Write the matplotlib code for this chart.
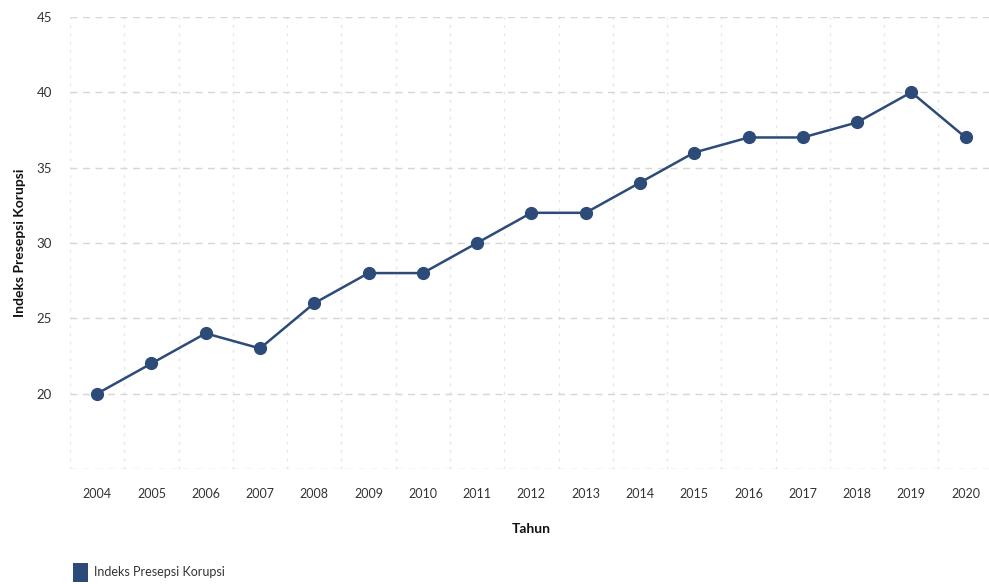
import numpy as np
import matplotlib
matplotlib.use("Agg")
import matplotlib.pyplot as plt
from matplotlib.patches import Patch

# data
years = [2004, 2005, 2006, 2007, 2008, 2009, 2010, 2011, 2012,
         2013, 2014, 2015, 2016, 2017, 2018, 2019, 2020]
ipk = [20, 22, 24, 23, 26, 28, 28, 30, 32, 32, 34, 36, 37, 37, 38, 40, 37]
y_ticks = [15, 20, 25, 30, 35, 40, 45]
series_name = "Indeks Presepsi Korupsi"

LINE_COLOR = "#2c4b79"
TEXT_COLOR = "#333333"

plt.rcParams['font.family'] = ['Lato', 'DejaVu Sans']

fig = plt.figure(figsize=(9.89, 5.84), dpi=100)
ax = fig.add_axes([0.0708, 0.197, 0.933, 0.774])

x = np.arange(len(years))
ax.plot(x, ipk, color=LINE_COLOR, linewidth=1.8, marker='o',
        markersize=8.5, zorder=3)

ax.set_xlim(-0.5, len(years) - 0.5)
ax.set_ylim(15, 45)

ax.set_xticks(x)
ax.set_xticklabels([str(y) for y in years], fontsize=9, color=TEXT_COLOR)
ax.set_yticks(y_ticks)
ax.set_yticklabels(["" if v == 15 else str(v) for v in y_ticks],
                   fontsize=9.5, color=TEXT_COLOR)

# vertical grid between categories
ax.set_xticks(np.arange(-0.5, len(years), 1), minor=True)
ax.grid(True, axis='x', which='minor', color='#e6e6e6',
        linestyle=(0, (2, 4)), linewidth=1)
ax.grid(True, axis='y', which='major', color='#d6d6d6',
        linestyle=(0, (5, 4)), linewidth=1)
ax.tick_params(axis='both', which='both', length=0)
ax.tick_params(axis='x', pad=14)
ax.tick_params(axis='y', pad=13)
for s in ax.spines.values():
    s.set_visible(False)

ax.set_ylabel(series_name, fontsize=10, fontweight='bold', color='#111111')
ax.yaxis.set_label_coords(-0.048, 0.5)
ax.set_xlabel("Tahun", fontsize=10, fontweight='bold', color='#111111',
              labelpad=16)

fig.legend(handles=[Patch(facecolor=LINE_COLOR, label=series_name)],
           loc='lower left', bbox_to_anchor=(0.062, -0.016), frameon=False,
           fontsize=9, handlelength=1.2, handleheight=2.0, handletextpad=0.5,
           labelcolor=TEXT_COLOR)

fig.savefig("out.png", dpi=100)
